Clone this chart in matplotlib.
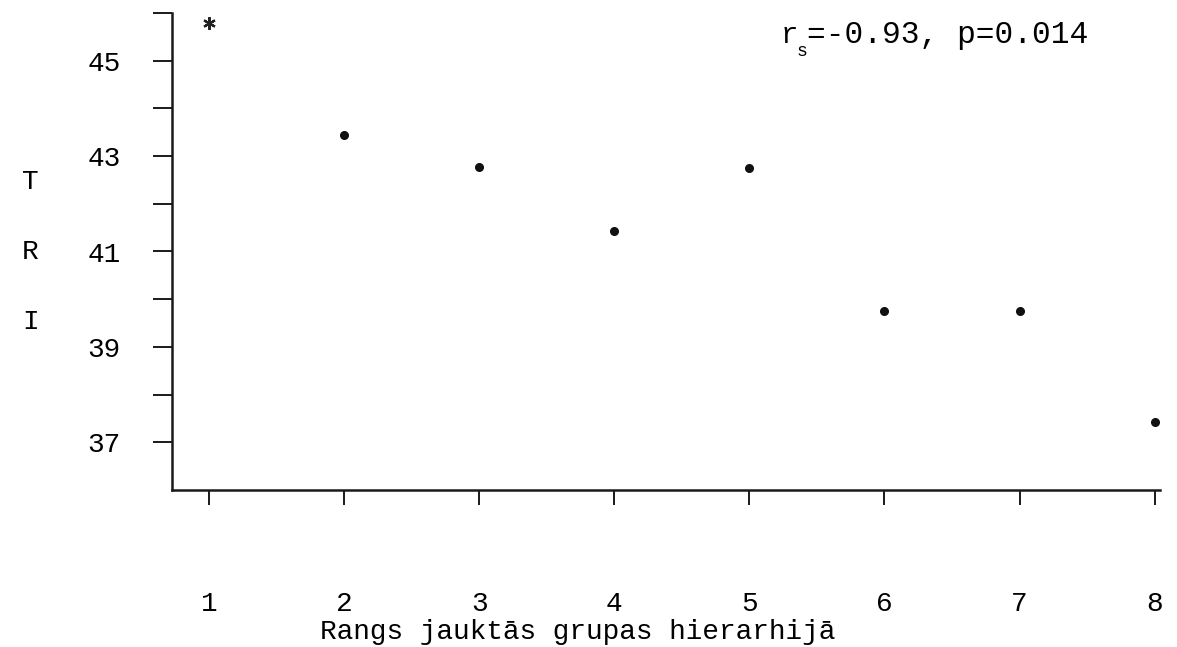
import matplotlib
matplotlib.use("Agg")
import matplotlib.pyplot as plt
from matplotlib.ticker import FixedLocator

plt.rcParams['font.family'] = ['Liberation Mono', 'DejaVu Sans Mono']

# rank in the mixed-group hierarchy vs. TRI
ranks = [1, 2, 3, 4, 5, 6, 7, 8]
tri = [45.8, 43.45, 42.77, 41.43, 42.75, 39.75, 39.75, 37.43]
markers = ['*', 'o', 'o', 'o', 'o', 'o', 'o', 'o']

y_major = [37, 39, 41, 43, 45]
y_minor = [38, 40, 42, 44, 46]
x_labels = ['1', '2', '3', '4', '5', '6', '7', '8']

fig = plt.figure(figsize=(11.77, 6.47), dpi=100)
ax = fig.add_axes([172 / 1177, 157 / 647, (1160 - 172) / 1177, (490 - 13) / 647])

for xv, yv, m in zip(ranks, tri, markers):
    if m == '*':
        ax.plot(xv, yv, marker=(6, 2, 0), ms=9, mew=1.6, color='#222222', ls='none',
                clip_on=False)
    else:
        ax.plot(xv, yv, marker='o', ms=5.5, color='#111111', ls='none', clip_on=False)

ax.set_xlim(0.726, 8.04)
ax.set_ylim(36, 46)

for side in ('top', 'right'):
    ax.spines[side].set_visible(False)
for side in ('left', 'bottom'):
    ax.spines[side].set_linewidth(1.8)
    ax.spines[side].set_color('#1a1a1a')

ax.yaxis.set_major_locator(FixedLocator(y_major))
ax.yaxis.set_minor_locator(FixedLocator(y_minor))
ax.set_yticklabels([str(v) for v in y_major])
ax.tick_params(axis='y', which='both', direction='out', length=14, width=1.4,
               color='#1a1a1a', pad=23, labelsize=20)

ax.set_xticks(ranks)
ax.set_xticklabels(x_labels)
ax.tick_params(axis='x', which='major', direction='out', length=11, width=1.4,
               color='#1a1a1a', pad=62, labelsize=20)

# horizontal axis title
fig.text(320 / 1177, 1 - 632 / 647, 'Rangs jauktās grupas hierarhijā',
         fontsize=20, ha='left', va='center')

# vertical axis title, one letter per line
for letter, ypix in zip(['T', 'R', 'I'], [182, 252, 322]):
    fig.text(22 / 1177, 1 - ypix / 647, letter, fontsize=20, ha='left', va='center')

# Spearman correlation annotation
fig.text(781 / 1177, 1 - 35 / 647, 'r', fontsize=21, ha='left', va='center')
fig.text(797 / 1177, 1 - 52 / 647, 's', fontsize=13, ha='left', va='center')
fig.text(807 / 1177, 1 - 35 / 647, '=-0.93, p=0.014', fontsize=22.5, ha='left', va='center')

fig.savefig('out.png', dpi=100, facecolor='white')
